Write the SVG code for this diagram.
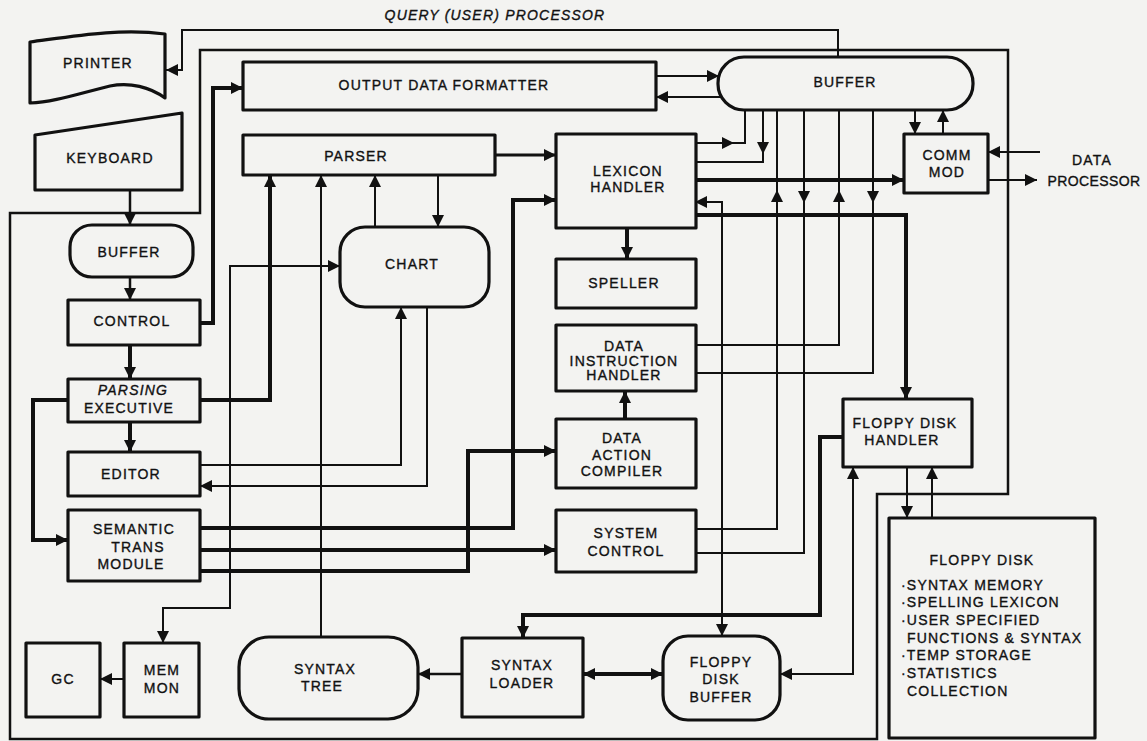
<svg xmlns="http://www.w3.org/2000/svg" width="1147" height="741" viewBox="0 0 1147 741">
<style>
.bg{fill:#f3f3f1}
.box{fill:none;stroke:#111;stroke-width:3.2;stroke-linejoin:round}
.t{font-family:"Liberation Sans",Arial,Helvetica,sans-serif;font-size:14px;letter-spacing:1.2px;fill:#111;stroke:#111;stroke-width:0.35px;text-anchor:middle}
.tl{text-anchor:start}
.it{font-style:italic}
.c{fill:none;stroke:#111;stroke-width:2;stroke-linejoin:miter}
.k{fill:none;stroke:#111;stroke-width:4;stroke-linejoin:miter}
.a{marker-end:url(#ah)}
.b{marker-start:url(#as);marker-end:url(#ah)}
</style>
<defs>
<marker id="ah" viewBox="0 0 10 10" refX="10" refY="5" markerWidth="12" markerHeight="12" markerUnits="userSpaceOnUse" orient="auto"><path d="M0,0 L10,5 L0,10 Z" fill="#111"/></marker>
<marker id="as" viewBox="0 0 10 10" refX="10" refY="5" markerWidth="12" markerHeight="12" markerUnits="userSpaceOnUse" orient="auto-start-reverse"><path d="M0,0 L10,5 L0,10 Z" fill="#111"/></marker>
</defs>
<rect class="bg" x="0" y="0" width="1147" height="741"/>

<text class="t it" x="495" y="20">QUERY (USER) PROCESSOR</text>

<g id="connectors">
<path class="c" style="stroke-width:2.5" d="M200,50 L1008,50 L1008,494 L877,494 L877,739 L10,739 L10,213 L200,213 Z"/>
<path class="c a" d="M838,57 L838,30 L182,30 L182,70 L166,70"/>
<path class="c a" style="stroke-width:2.5" d="M130,190 L130,225"/>
<path class="c a" style="stroke-width:2.5" d="M130,277 L130,300"/>
<path class="k a" d="M130,345 L130,379"/>
<path class="k a" d="M130,422 L130,452"/>
<path class="k a" d="M200,323 L213,323 L213,88 L243,88"/>
<path class="k a" d="M68,400 L33,400 L33,540 L68,540"/>
<path class="k a" d="M200,400 L270,400 L270,175"/>
<path class="c a" d="M656,76 L719,76"/>
<path class="c a" d="M722,97 L656,97"/>
<path class="c a" style="stroke-width:3" d="M495,155 L556,155"/>
<path class="c a" d="M438,175 L438,227"/>
<path class="c a" d="M375,227 L375,175"/>
<path class="c a" d="M321,637 L321,175"/>
<path class="c a" d="M200,465 L401,465 L401,307"/>
<path class="c a" d="M427,307 L427,486 L200,486"/>
<path class="c b" d="M163,643 L163,608 L230,608 L230,266 L340,266"/>
<path class="c a" d="M124,679 L100,679"/>
<path class="c a" d="M695,143 L734,143"/>
<path class="c" d="M730,143 L745,143 L745,110"/>
<path class="c a" d="M763,110 L763,154"/>
<path class="c" d="M763,150 L763,162 L695,162"/>
<path class="k a" d="M695,180 L904,180"/>
<path class="c a" d="M696,529 L777,529 L777,190"/>
<path class="c" d="M777,194 L777,110"/>
<path class="c a" d="M804,110 L804,203"/>
<path class="c" d="M804,199 L804,553 L696,553"/>
<path class="c a" d="M696,345 L839,345 L839,190"/>
<path class="c" d="M839,194 L839,110"/>
<path class="c a" d="M873,110 L873,203"/>
<path class="c" d="M873,199 L873,373 L696,373"/>
<path class="c b" d="M695,202 L722,202 L722,636"/>
<path class="k a" d="M695,215 L906,215 L906,399"/>
<path class="c a" d="M915,110 L915,134"/>
<path class="c a" d="M943,134 L943,110"/>
<path class="c a" d="M1040,152 L988,152"/>
<path class="c a" d="M988,180 L1037,180"/>
<path class="k a" d="M200,528 L513,528 L513,200 L556,200"/>
<path class="k a" d="M200,550 L556,550"/>
<path class="k a" d="M200,571 L468,571 L468,451 L556,451"/>
<path class="k a" d="M625,418 L625,391"/>
<path class="k a" d="M627,228 L627,259"/>
<path class="k a" d="M843,437 L820,437 L820,615 L523,615 L523,638"/>
<path class="c b" d="M853,467 L853,674 L780,674"/>
<path class="c a" d="M907,467 L907,518"/>
<path class="c a" d="M932,518 L932,467"/>
<path class="c a" style="stroke-width:2.5" d="M462,674 L418,674"/>
<path class="k b" d="M583,674 L663,674"/>
</g>

<g id="printer">
<path class="box" d="M30,42 C75,36 120,28 165,34 L165,98 C150,87 130,82 110,86 C80,93 55,102 30,103 Z"/>
<text class="t" x="98" y="68">PRINTER</text>
</g>
<g id="keyboard">
<path class="box" d="M35,135 L182,113 L182,190 L35,190 Z"/>
<text class="t" x="110" y="163">KEYBOARD</text>
</g>
<g id="buffer-left">
<rect class="box" x="70" y="225" width="123" height="52" rx="22"/>
<text class="t" x="129" y="257">BUFFER</text>
</g>
<g id="control">
<rect class="box" x="68" y="300" width="132" height="45"/>
<text class="t" x="132" y="326">CONTROL</text>
</g>
<g id="parsing-executive">
<rect class="box" x="68" y="379" width="132" height="43"/>
<text class="t it" x="133" y="395">PARSING</text>
<text class="t" x="129" y="413">EXECUTIVE</text>
</g>
<g id="editor">
<rect class="box" x="68" y="452" width="132" height="44"/>
<text class="t" x="131" y="479">EDITOR</text>
</g>
<g id="semantic-trans-module">
<rect class="box" x="68" y="510" width="132" height="71"/>
<text class="t" x="134" y="534">SEMANTIC</text>
<text class="t" x="138" y="552">TRANS</text>
<text class="t" x="131" y="569">MODULE</text>
</g>
<g id="gc">
<rect class="box" x="26" y="643" width="74" height="74"/>
<text class="t" x="63" y="684">GC</text>
</g>
<g id="mem-mon">
<rect class="box" x="124" y="643" width="75" height="74"/>
<text class="t" x="162" y="675">MEM</text>
<text class="t" x="162" y="693">MON</text>
</g>
<g id="syntax-tree">
<rect class="box" x="239" y="637" width="179" height="82" rx="30"/>
<text class="t" x="325" y="674">SYNTAX</text>
<text class="t" x="322" y="691">TREE</text>
</g>
<g id="syntax-loader">
<rect class="box" x="462" y="638" width="121" height="79"/>
<text class="t" x="522" y="670">SYNTAX</text>
<text class="t" x="522" y="688">LOADER</text>
</g>
<g id="floppy-disk-buffer">
<rect class="box" x="663" y="636" width="117" height="84" rx="25"/>
<text class="t" x="721" y="667">FLOPPY</text>
<text class="t" x="721" y="684">DISK</text>
<text class="t" x="721" y="702">BUFFER</text>
</g>
<g id="output-data-formatter">
<rect class="box" x="243" y="62" width="413" height="48"/>
<text class="t" x="444" y="90">OUTPUT DATA FORMATTER</text>
</g>
<g id="parser">
<rect class="box" x="243" y="135" width="252" height="40"/>
<text class="t" x="356" y="161">PARSER</text>
</g>
<g id="chart">
<rect class="box" x="340" y="227" width="149" height="80" rx="25"/>
<text class="t" x="412" y="269">CHART</text>
</g>
<g id="lexicon-handler">
<rect class="box" x="556" y="134" width="140" height="94"/>
<text class="t" x="628" y="176">LEXICON</text>
<text class="t" x="628" y="192">HANDLER</text>
</g>
<g id="speller">
<rect class="box" x="556" y="259" width="140" height="49"/>
<text class="t" x="624" y="288">SPELLER</text>
</g>
<g id="data-instruction-handler">
<rect class="box" x="556" y="325" width="140" height="66"/>
<text class="t" x="624" y="351">DATA</text>
<text class="t" x="624" y="366">INSTRUCTION</text>
<text class="t" x="624" y="380">HANDLER</text>
</g>
<g id="data-action-compiler">
<rect class="box" x="556" y="419" width="140" height="69"/>
<text class="t" x="622" y="443">DATA</text>
<text class="t" x="622" y="460">ACTION</text>
<text class="t" x="622" y="476">COMPILER</text>
</g>
<g id="system-control">
<rect class="box" x="556" y="510" width="140" height="62"/>
<text class="t" x="626" y="538">SYSTEM</text>
<text class="t" x="626" y="556">CONTROL</text>
</g>
<g id="buffer-top">
<rect class="box" x="718" y="57" width="255" height="53" rx="26"/>
<text class="t" x="845" y="87">BUFFER</text>
</g>
<g id="comm-mod">
<rect class="box" x="904" y="134" width="84" height="59"/>
<text class="t" x="947" y="160">COMM</text>
<text class="t" x="947" y="177">MOD</text>
</g>
<g id="data-processor">
<text class="t" x="1092" y="165">DATA</text>
<text class="t" x="1094" y="186" style="letter-spacing:0.4px">PROCESSOR</text>
</g>
<g id="floppy-disk-handler">
<rect class="box" x="843" y="399" width="129" height="68"/>
<text class="t" x="905" y="428">FLOPPY DISK</text>
<text class="t" x="902" y="445">HANDLER</text>
</g>
<g id="floppy-disk">
<rect class="box" x="889" y="518" width="206" height="220"/>
<text class="t" x="982" y="565">FLOPPY DISK</text>
<text class="t tl" x="901" y="590">·SYNTAX MEMORY</text>
<text class="t tl" x="901" y="607">·SPELLING LEXICON</text>
<text class="t tl" x="901" y="625">·USER SPECIFIED</text>
<text class="t tl" x="907" y="643">FUNCTIONS &amp; SYNTAX</text>
<text class="t tl" x="901" y="660">·TEMP STORAGE</text>
<text class="t tl" x="901" y="678">·STATISTICS</text>
<text class="t tl" x="907" y="696">COLLECTION</text>
</g>
</svg>
